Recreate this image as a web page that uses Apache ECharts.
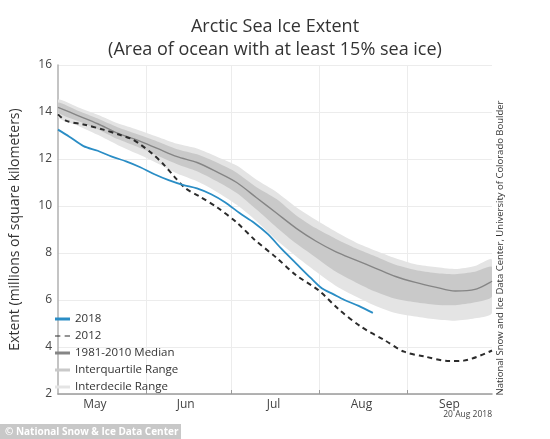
<!DOCTYPE html>
<html>
<head>
<meta charset="utf-8">
<script src="https://cdn.jsdelivr.net/npm/echarts@6/dist/echarts.min.js"></script>
<style>
html,body{margin:0;padding:0;background:#fff;}
#chart{width:550px;height:439px;}
</style>
</head>
<body>
<div id="chart"></div>
<script>
// ---- Data (day of year) ----
const bandDays = [121,128,135,142,149,156,163,170,177,184,191,198,205,212,219,226,233,240,247,254,261,268,274];
const median   = [14.2,13.85,13.5,13.1,12.8,12.45,12.1,11.85,11.45,11.0,10.35,9.7,9.05,8.5,8.05,7.7,7.35,7.0,6.75,6.55,6.38,6.45,6.8];
const iqLow    = [13.98,13.62,13.27,12.85,12.52,12.15,11.78,11.48,11.05,10.55,9.85,9.1,8.4,7.8,7.2,6.75,6.35,6.05,5.9,5.8,5.78,5.9,6.15];
const iqHigh   = [14.4,14.05,13.72,13.35,13.05,12.75,12.42,12.2,11.85,11.42,10.8,10.3,9.6,9.05,8.6,8.2,7.85,7.5,7.28,7.15,7.1,7.2,7.4];
const idLow    = [13.78,13.42,13.03,12.6,12.22,11.82,11.38,11.05,10.6,10.05,9.35,8.55,7.85,7.2,6.6,6.15,5.75,5.45,5.3,5.18,5.12,5.22,5.45];
const idHigh   = [14.52,14.2,13.88,13.52,13.25,12.95,12.65,12.45,12.1,11.72,11.12,10.6,9.95,9.4,8.9,8.45,8.1,7.78,7.52,7.4,7.32,7.45,7.72];

const days2018 = [121,125,130,135,140,145,150,155,160,165,170,175,180,185,190,195,200,205,210,214,218,222,227,232];
const ext2018  = [13.25,12.95,12.55,12.35,12.1,11.9,11.65,11.35,11.1,10.9,10.75,10.5,10.15,9.7,9.3,8.8,8.15,7.55,6.95,6.5,6.25,6.0,5.75,5.45];

const days2012 = [121,124,130,137,143,147,150,154,158,162,166,171,177,184,190,198,205,213,220,228,236,243,250,259,264,274];
const ext2012  = [13.9,13.62,13.47,13.25,13.02,12.85,12.62,12.25,11.8,11.25,10.75,10.4,9.95,9.3,8.6,7.8,7.05,6.4,5.6,4.85,4.3,3.8,3.6,3.4,3.42,3.85];

const monthStartDays = [152,182,213,244];
const monthLabelDays = [134,166,197,228,259];
const monthLabels    = ['May','Jun','Jul','Aug','Sep'];

const pairs = (xs, ys) => xs.map((x, i) => [x, ys[i]]);

const BLUE = '#2a8dc5', DARK = '#2b2b2b', MED = '#858585', IQC = '#c9c9c9', IDC = '#e4e4e4';
const FONT = 'Open Sans';

function bandSeries(name, lows, highs, color) {
  return {
    type: 'custom', name: name, silent: true, clip: true,
    data: [[bandDays[0], highs[0]]],
    itemStyle: {color: color},
    renderItem: function (params, api) {
      const top = bandDays.map((d, i) => api.coord([d, highs[i]]));
      const bot = bandDays.map((d, i) => api.coord([d, lows[i]])).reverse();
      return {
        type: 'polygon',
        shape: {points: top.concat(bot), smooth: 0.25},
        style: {fill: color, stroke: null}
      };
    }
  };
}

const chart = echarts.init(document.getElementById('chart'), null, {renderer: 'canvas'});

chart.setOption({
  backgroundColor: '#ffffff',
  animation: false,
  textStyle: {fontFamily: FONT},
  title: {
    text: 'Arctic Sea Ice Extent\n(Area of ocean with at least 15% sea ice)',
    left: 'center', top: 10,
    textStyle: {fontFamily: FONT, fontSize: 18, fontWeight: 'normal', color: '#333', lineHeight: 23}
  },
  grid: {left: 53, right: 58, top: 65, bottom: 45},
  xAxis: {
    type: 'value', min: 121, max: 274,
    axisLine: {show: true, lineStyle: {color: '#9a9a9a', width: 1.5}},
    axisTick: {show: true, inside: true, length: 4, customValues: monthStartDays, lineStyle: {color: '#9a9a9a'}},
    splitLine: {show: true, lineStyle: {color: '#ececec', width: 1}},
    axisLabel: {
      customValues: monthLabelDays, fontSize: 12, color: '#444', margin: 5, fontFamily: FONT,
      formatter: v => monthLabels[monthLabelDays.indexOf(v)] || ''
    }
  },
  yAxis: {
    type: 'value', min: 2, max: 16, interval: 2,
    name: 'Extent (millions of square kilometers)', nameLocation: 'middle', nameGap: 36,
    nameTextStyle: {fontSize: 14, color: '#333', fontFamily: FONT},
    axisLine: {show: true, lineStyle: {color: '#b0b0b0', width: 1.5}},
    axisTick: {show: false},
    splitLine: {show: true, lineStyle: {color: '#ececec', width: 1}},
    axisLabel: {fontSize: 12, color: '#444', margin: 6, fontFamily: FONT}
  },
  legend: {
    orient: 'vertical', left: 50, top: 308, itemWidth: 15, itemHeight: 3, itemGap: 5,
    textStyle: {fontSize: 11.5, color: '#333', fontFamily: FONT},
    selectedMode: false,
    data: [
      {name: '2018', icon: 'rect', itemStyle: {color: BLUE}},
      {name: '2012', icon: 'path://M0,0h5v1h-5zM9,0h5v1h-5z', itemStyle: {color: DARK}},
      {name: '1981-2010 Median', icon: 'rect', itemStyle: {color: MED}},
      {name: 'Interquartile Range', icon: 'rect', itemStyle: {color: IQC}},
      {name: 'Interdecile Range', icon: 'rect', itemStyle: {color: IDC}}
    ]
  },
  series: [
    bandSeries('Interdecile Range', idLow, idHigh, IDC),
    bandSeries('Interquartile Range', iqLow, iqHigh, IQC),
    {type: 'line', name: '1981-2010 Median', data: pairs(bandDays, median), smooth: 0.3, symbol: 'none',
      lineStyle: {color: MED, width: 1.4}, itemStyle: {color: MED}},
    {type: 'line', name: '2012', data: pairs(days2012, ext2012), smooth: 0.3, symbol: 'none',
      lineStyle: {color: DARK, width: 2, type: [5, 4]}, itemStyle: {color: DARK}},
    {type: 'line', name: '2018', data: pairs(days2018, ext2018), smooth: 0.3, symbol: 'none',
      lineStyle: {color: BLUE, width: 1.8}, itemStyle: {color: BLUE}}
  ],
  graphic: [
    {type: 'text', x: 500, y: 248, rotation: Math.PI / 2,
      style: {text: 'National Snow and Ice Data Center, University of Colorado Boulder', fontSize: 9.5, fontFamily: FONT,
        fill: '#333', align: 'center', verticalAlign: 'middle'}},
    {type: 'text', x: 492, y: 415,
      style: {text: '20 Aug 2018', fontSize: 8.5, fontFamily: FONT, fill: '#444', align: 'right', verticalAlign: 'middle'}},
    {type: 'rect', shape: {x: 0, y: 424, width: 181, height: 16}, style: {fill: '#c8c8c8'}},
    {type: 'text', x: 5, y: 432,
      style: {text: '© National Snow & Ice Data Center', fontSize: 10, fontWeight: 'bold', fontFamily: FONT,
        fill: '#ffffff', align: 'left', verticalAlign: 'middle'}}
  ]
});
</script>
</body>
</html>
